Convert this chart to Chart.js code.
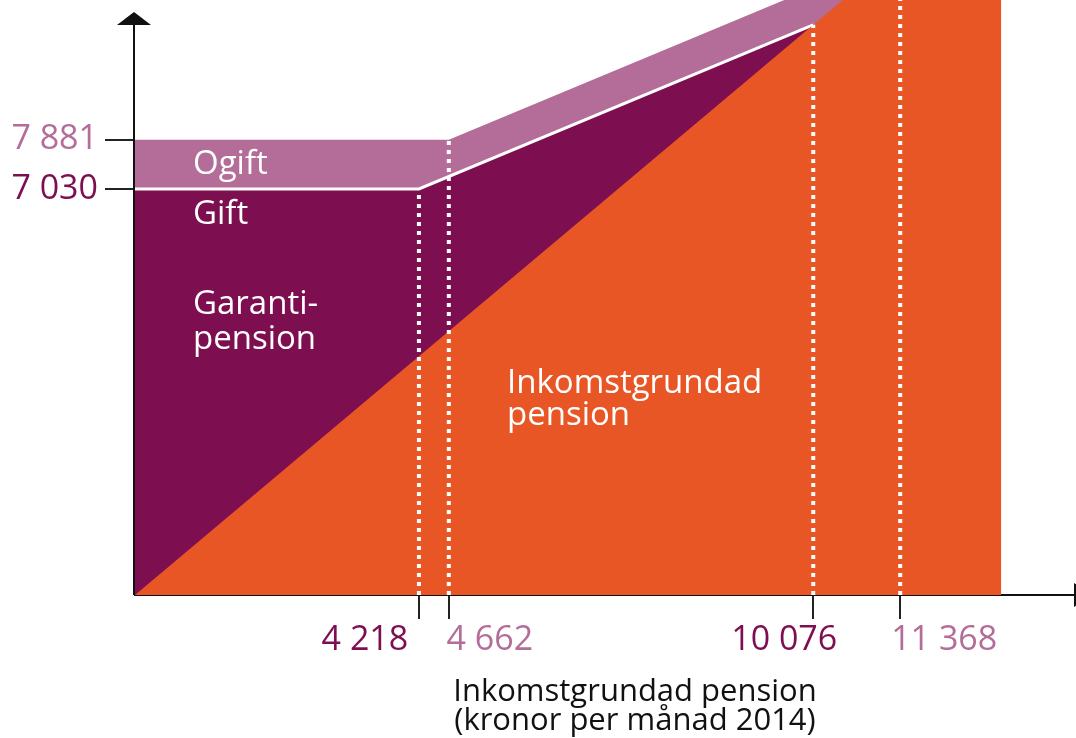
<!DOCTYPE html>
<html>
<head>
<meta charset="utf-8">
<script src="https://cdn.jsdelivr.net/npm/chart.js@4"></script>
<style>
  html, body { margin: 0; background: #fff; }
  #wrap { width: 1076px; height: 738px; }
</style>
</head>
<body>
<div id="wrap"><canvas id="chartCanvas"></canvas></div>
<script>
// --- values (kronor per månad 2014) ---
const xTicks = [4218, 4662, 10076, 11368];
const xTickLabels = ["4 218", "4 662", "10 076", "11 368"];
const yTicks = [7030, 7881];
const yTickLabels = ["7 030", "7 881"];

// inkomstgrundad pension, runs off the top of the picture
const inkomstX = [0, 12870, 12870];
const inkomstY = [0, 12607, 0];

// income + garantipension, gift
const giftX = [0, 4218, 10076];
const giftY = [7030, 7030, 9870];

// income + garantipension, ogift
const ogiftX = [0, 4662, 11368];
const ogiftY = [7881, 7881, 11136];

// dotted guides go from the x axis up to these levels
const guideTops = [7030, 7881, 9870, 11136];

// --- colours ---
const ORANGE = "#e85626";
const DARK = "#7d0f51";
const LIGHT = "#b36d98";
const xTickColors = [DARK, LIGHT, DARK, LIGHT];
const yTickColors = [DARK, LIGHT];
const FONT = "'Open Sans', 'DejaVu Sans', sans-serif";

const toPoints = (xs, ys) => xs.map((x, i) => ({ x, y: ys[i] }));

const guides = xTicks.map((v, i) => ({
  data: [{ x: v, y: 0 }, { x: v, y: guideTops[i] }],
  borderColor: "#fff",
  borderWidth: 4,
  borderDash: [4, 5],
  borderCapStyle: "butt",
  fill: false
}));

// --- labels, axis lines and arrows drawn on top ---
const decor = {
  id: "decor",
  afterDraw(chart) {
    const { ctx, chartArea: a, scales } = chart;
    ctx.save();

    // y axis with arrow
    ctx.strokeStyle = "#111";
    ctx.lineWidth = 2;
    ctx.beginPath();
    ctx.moveTo(a.left - 1, 22);
    ctx.lineTo(a.left - 1, a.bottom);
    ctx.stroke();
    ctx.fillStyle = "#111";
    ctx.beginPath();
    ctx.moveTo(a.left - 1, 12);
    ctx.lineTo(a.left - 18, 25);
    ctx.lineTo(a.left + 16, 25);
    ctx.closePath();
    ctx.fill();

    // x axis arrow (tip runs off the edge)
    ctx.beginPath();
    ctx.moveTo(a.right, a.bottom - 12);
    ctx.lineTo(a.right + 18, a.bottom);
    ctx.lineTo(a.right, a.bottom + 12);
    ctx.closePath();
    ctx.fill();

    // x tick labels, shifted off their ticks like the original
    const shift = [-54, 41, -29, 44];
    ctx.font = "34px " + FONT;
    ctx.textAlign = "center";
    ctx.textBaseline = "middle";
    xTicks.forEach((v, i) => {
      ctx.fillStyle = xTickColors[i];
      ctx.fillText(xTickLabels[i], scales.x.getPixelForValue(v) + shift[i], 640);
    });

    // axis title
    ctx.fillStyle = "#111";
    ctx.font = "31px " + FONT;
    ctx.fillText("Inkomstgrundad pension", 635, 692);
    ctx.fillText("(kronor per månad 2014)", 635, 721);

    // area labels
    ctx.fillStyle = "#fff";
    ctx.font = "33px " + FONT;
    ctx.textAlign = "left";
    ctx.fillText("Ogift", 193, 165);
    ctx.fillText("Gift", 193, 215);
    ctx.fillText("Garanti-", 193, 305);
    ctx.fillText("pension", 193, 340);
    ctx.fillText("Inkomstgrundad", 507, 384);
    ctx.fillText("pension", 507, 416);

    ctx.restore();
  }
};

new Chart(document.getElementById("chartCanvas"), {
  type: "line",
  data: {
    datasets: [
      ...guides,
      { data: toPoints(inkomstX, inkomstY), borderWidth: 0, backgroundColor: ORANGE, fill: "origin" },
      { data: toPoints(giftX, giftY), borderColor: "#fff", borderWidth: 3, backgroundColor: DARK, fill: "origin" },
      { data: toPoints(ogiftX, ogiftY), borderWidth: 0, backgroundColor: LIGHT, fill: "origin" }
    ]
  },
  options: {
    responsive: true,
    maintainAspectRatio: false,
    animation: false,
    elements: { point: { radius: 0 }, line: { tension: 0 } },
    layout: { padding: { top: 0, right: 2, left: 0, bottom: 0 } },
    plugins: { legend: { display: false }, tooltip: { enabled: false } },
    scales: {
      x: {
        type: "linear",
        min: 0,
        max: 13950,
        afterBuildTicks: s => { s.ticks = xTicks.map(v => ({ value: v })); },
        afterFit: s => { s.height = 143; s.paddingLeft = 0; s.paddingRight = 0; },
        ticks: { display: false },
        grid: { drawOnChartArea: false, color: "#222", lineWidth: 2, tickLength: 24 },
        border: { color: "#111", width: 2 }
      },
      y: {
        min: 0,
        max: 10300,
        afterBuildTicks: s => { s.ticks = yTicks.map(v => ({ value: v })); },
        afterFit: s => { s.width = 135; s.paddingTop = 0; s.paddingBottom = 0; },
        ticks: {
          callback: (v, i) => yTickLabels[i],
          color: c => yTickColors[c.index],
          padding: 7,
          font: { family: FONT, size: 34 }
        },
        grid: { drawOnChartArea: false, color: "#222", lineWidth: 2, tickLength: 30 },
        border: { display: false }
      }
    }
  },
  plugins: [decor]
});
</script>
</body>
</html>
